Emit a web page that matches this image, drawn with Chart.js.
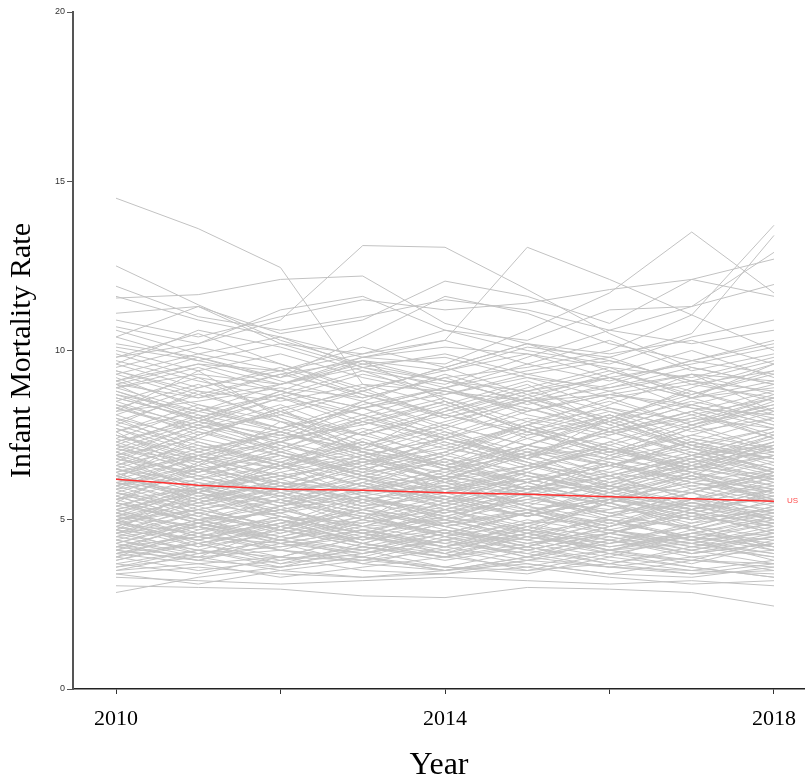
<!DOCTYPE html>
<html>
<head>
<meta charset="utf-8">
<script src="https://cdn.jsdelivr.net/npm/chart.js@4.4.1/dist/chart.umd.min.js"></script>
<style>
  html, body { margin: 0; padding: 0; background: #fff; }
  #wrap { width: 805px; height: 779px; }
</style>
</head>
<body>
<div id="wrap"><canvas id="chart" width="805" height="779"></canvas></div>
<script>
const years = [2010, 2011, 2012, 2013, 2014, 2015, 2016, 2017, 2018];
const yTicks = [0, 5, 10, 15, 20];
const xTickYears = [2010, 2012, 2014, 2016, 2018];
const xLabelYears = [2010, 2014, 2018];

const usRate = [6.2, 6.02, 5.9, 5.87, 5.8, 5.75, 5.68, 5.62, 5.55];

// one row per area
const countyRates = [
  [14.5, 13.6, 12.45, 9.0, 8.8, 8.5, 8.7, 8.3, 8.1],
  [12.5, 11.35, 10.3, 9.6, 9.8, 9.2, 8.9, 9.3, 8.7],
  [11.55, 11.65, 12.1, 12.2, 10.8, 10.2, 9.9, 10.3, 9.6],
  [9.8, 10.2, 10.9, 13.1, 13.05, 11.8, 10.5, 9.5, 9.0],
  [9.1, 9.6, 9.4, 9.9, 10.3, 13.05, 12.1, 11.05, 10.0],
  [8.9, 9.3, 9.0, 9.8, 9.6, 10.6, 11.7, 13.5, 11.7],
  [8.2, 8.5, 8.9, 8.6, 9.2, 9.5, 10.0, 11.05, 13.7],
  [9.0, 8.6, 9.3, 9.7, 9.4, 10.1, 9.8, 10.5, 13.4],
  [10.1, 9.7, 10.2, 9.9, 10.6, 10.3, 11.2, 11.3, 12.9],
  [10.9, 10.4, 11.0, 11.5, 11.2, 11.4, 11.8, 12.1, 12.7],
  [11.9, 11.0, 10.6, 11.0, 11.5, 11.2, 10.6, 11.3, 11.95],
  [11.1, 11.3, 10.5, 10.9, 12.05, 11.6, 10.8, 12.1, 11.6],
  [10.4, 11.3, 10.2, 9.5, 9.1, 8.8, 9.2, 8.6, 8.9],
  [11.6, 10.9, 10.4, 9.8, 10.1, 9.9, 9.5, 9.2, 9.8],
  [10.7, 10.2, 11.2, 11.6, 10.6, 10.0, 9.6, 10.4, 10.9],
  [10.2, 9.8, 9.2, 10.4, 11.6, 11.1, 10.2, 9.7, 10.3],
  [9.6, 10.6, 10.1, 9.4, 9.0, 9.8, 10.6, 10.2, 10.6],
  [3.05, 3.0, 2.95, 2.75, 2.7, 3.0, 2.95, 2.85, 2.45],
  [2.85, 3.3, 3.6, 3.9, 3.5, 3.8, 3.6, 3.4, 3.7],
  [3.3, 3.2, 3.1, 3.2, 3.3, 3.2, 3.1, 3.2, 3.05],
  [3.4, 3.1, 3.5, 3.3, 3.4, 3.6, 3.3, 3.1, 3.2],
  [7.4, 6.6, 7.9, 7.0, 6.3, 7.5, 8.1, 7.2, 6.8],
  [8.3, 7.6, 7.1, 8.0, 8.6, 7.7, 7.2, 7.9, 8.4],
  [6.9, 7.8, 7.3, 6.5, 7.0, 7.9, 7.4, 6.7, 7.3],
  [7.8, 7.1, 7.5, 8.3, 7.4, 6.9, 7.6, 8.2, 7.5],
  [8.6, 8.0, 7.4, 7.8, 8.4, 7.7, 7.0, 7.5, 7.1],
  [7.1, 6.7, 7.3, 7.9, 7.2, 7.8, 8.3, 7.6, 8.0],
  [9.1, 8.4, 7.9, 7.5, 8.1, 7.6, 8.2, 7.4, 7.0],
  [7.6, 8.2, 8.7, 7.9, 7.4, 8.0, 7.5, 8.1, 8.6],
  [8.0, 7.4, 8.3, 8.8, 8.1, 7.5, 7.9, 8.5, 8.0],
  [8.8, 8.1, 7.6, 8.4, 8.9, 8.2, 8.7, 9.1, 8.5],
  [7.3, 7.9, 7.5, 7.1, 6.6, 7.2, 6.8, 6.4, 6.9],
  [9.4, 8.8, 8.5, 9.0, 8.4, 9.1, 8.3, 7.9, 8.6],
  [8.4, 7.8, 8.6, 8.1, 8.8, 8.3, 7.6, 8.0, 7.7],
  [9.7, 9.1, 8.6, 9.3, 8.8, 8.2, 8.7, 8.4, 7.8],
  [8.9, 9.5, 8.8, 8.3, 8.7, 9.2, 8.6, 9.0, 9.4],
  [9.3, 8.6, 9.0, 9.6, 9.1, 8.5, 8.9, 9.5, 9.0],
  [10.0, 9.4, 9.9, 9.2, 8.7, 9.3, 9.7, 9.1, 8.8],
  [9.5, 10.1, 9.6, 8.9, 9.4, 9.9, 9.2, 9.6, 10.1],
  [8.7, 8.2, 9.0, 9.5, 9.9, 9.3, 8.8, 9.3, 9.1],
  [9.9, 9.2, 8.8, 8.3, 8.9, 9.4, 9.8, 9.0, 8.6],
  [6.4, 7.1, 6.6, 6.0, 6.8, 6.3, 5.9, 6.7, 7.0],
  [7.0, 6.3, 6.8, 7.3, 6.5, 6.1, 6.6, 7.2, 6.7],
  [6.1, 6.6, 7.2, 6.7, 6.2, 6.9, 7.1, 6.4, 6.0],
  [6.7, 6.0, 6.4, 6.9, 7.4, 6.8, 6.2, 6.6, 6.3],
  [6.2, 6.8, 6.1, 5.8, 6.4, 7.0, 6.6, 6.1, 6.5],
  [6.9, 7.4, 6.9, 6.3, 6.0, 6.5, 7.1, 6.8, 6.2],
  [6.5, 6.1, 5.7, 6.3, 6.9, 6.4, 6.0, 5.8, 6.4],
  [6.0, 6.5, 6.9, 6.4, 6.7, 6.1, 6.6, 7.1, 6.8],
  [7.2, 6.8, 6.3, 6.7, 6.2, 6.6, 7.0, 6.5, 6.9],
  [6.8, 6.2, 6.6, 7.1, 6.6, 7.2, 6.7, 6.2, 5.9],
  [6.3, 6.9, 7.3, 6.8, 6.4, 5.9, 6.3, 6.9, 7.2],
  [7.1, 6.5, 6.1, 5.9, 6.5, 6.9, 6.4, 6.0, 6.3],
  [6.6, 7.2, 6.7, 6.2, 5.8, 6.2, 6.8, 7.3, 6.8],
  [6.1, 5.8, 6.3, 6.7, 7.1, 6.7, 6.1, 6.5, 6.2],
  [7.5, 6.9, 6.5, 7.0, 6.6, 6.1, 6.6, 6.2, 6.7],
  [6.8, 6.4, 7.0, 6.5, 6.1, 6.6, 6.3, 6.8, 7.4],
  [5.4, 6.0, 5.5, 5.1, 5.7, 5.3, 4.9, 5.6, 6.0],
  [6.0, 5.3, 5.8, 6.2, 5.5, 5.1, 5.6, 6.1, 5.7],
  [5.1, 5.6, 6.1, 5.6, 5.2, 5.9, 6.0, 5.4, 5.0],
  [5.7, 5.0, 5.4, 5.9, 6.3, 5.8, 5.2, 5.6, 5.3],
  [5.2, 5.8, 5.1, 4.8, 5.4, 6.0, 5.6, 5.1, 5.5],
  [5.9, 6.3, 5.8, 5.3, 5.0, 5.5, 6.1, 5.8, 5.2],
  [5.5, 5.1, 4.7, 5.3, 5.9, 5.4, 5.0, 4.8, 5.4],
  [5.0, 5.5, 5.9, 5.4, 5.7, 5.1, 5.6, 6.1, 5.8],
  [6.2, 5.8, 5.3, 5.7, 5.2, 5.6, 6.0, 5.5, 5.9],
  [5.8, 5.2, 5.6, 6.1, 5.6, 6.2, 5.7, 5.2, 4.9],
  [5.3, 5.9, 6.3, 5.8, 5.4, 4.9, 5.3, 5.9, 6.2],
  [6.1, 5.5, 5.1, 4.9, 5.5, 5.9, 5.4, 5.0, 5.3],
  [5.6, 6.2, 5.7, 5.2, 4.8, 5.2, 5.8, 6.3, 5.8],
  [5.1, 4.8, 5.3, 5.7, 6.1, 5.7, 5.1, 5.5, 5.2],
  [6.5, 5.9, 5.5, 6.0, 5.6, 5.1, 5.6, 5.2, 5.7],
  [5.8, 5.4, 6.0, 5.5, 5.1, 5.6, 5.3, 5.8, 6.4],
  [5.4, 5.0, 5.2, 5.6, 5.3, 5.8, 5.5, 5.0, 5.3],
  [5.6, 5.9, 5.4, 5.8, 6.0, 5.5, 5.2, 5.5, 5.1],
  [5.0, 5.3, 5.7, 5.2, 4.9, 5.3, 5.6, 5.3, 5.7],
  [6.3, 5.7, 6.0, 5.6, 5.9, 6.2, 5.7, 5.4, 5.6],
  [4.4, 5.0, 4.5, 4.1, 4.7, 4.3, 3.9, 4.6, 5.0],
  [5.0, 4.3, 4.8, 5.2, 4.5, 4.1, 4.6, 5.1, 4.7],
  [4.1, 4.6, 5.1, 4.6, 4.2, 4.9, 5.0, 4.4, 4.0],
  [4.7, 4.0, 4.4, 4.9, 5.3, 4.8, 4.2, 4.6, 4.3],
  [4.2, 4.8, 4.1, 3.8, 4.4, 5.0, 4.6, 4.1, 4.5],
  [4.9, 5.3, 4.8, 4.3, 4.0, 4.5, 5.1, 4.8, 4.2],
  [4.5, 4.1, 3.7, 4.3, 4.9, 4.4, 4.0, 3.8, 4.4],
  [4.0, 4.5, 4.9, 4.4, 4.7, 4.1, 4.6, 5.1, 4.8],
  [5.2, 4.8, 4.3, 4.7, 4.2, 4.6, 5.0, 4.5, 4.9],
  [4.8, 4.2, 4.6, 5.1, 4.6, 5.2, 4.7, 4.2, 3.9],
  [4.3, 4.9, 5.3, 4.8, 4.4, 3.9, 4.3, 4.9, 5.2],
  [5.1, 4.5, 4.1, 3.9, 4.5, 4.9, 4.4, 4.0, 4.3],
  [4.6, 5.2, 4.7, 4.2, 3.8, 4.2, 4.8, 5.3, 4.8],
  [4.1, 3.8, 4.3, 4.7, 5.1, 4.7, 4.1, 4.5, 4.2],
  [5.5, 4.9, 4.5, 5.0, 4.6, 4.1, 4.6, 4.2, 4.7],
  [4.8, 4.4, 5.0, 4.5, 4.1, 4.6, 4.3, 4.8, 5.4],
  [4.4, 4.0, 4.2, 4.6, 4.3, 4.8, 4.5, 4.0, 4.3],
  [4.6, 4.9, 4.4, 4.8, 5.0, 4.5, 4.2, 4.5, 4.1],
  [4.0, 4.3, 4.7, 4.2, 3.9, 4.3, 4.6, 4.3, 4.7],
  [5.3, 4.7, 5.0, 4.6, 4.9, 5.2, 4.7, 4.4, 4.6],
  [4.2, 4.5, 4.3, 4.0, 4.4, 4.7, 4.3, 4.6, 4.4],
  [4.7, 4.4, 4.9, 5.3, 4.8, 4.3, 4.7, 4.3, 4.0],
  [4.5, 4.8, 4.4, 4.1, 4.6, 4.4, 4.9, 4.5, 4.2],
  [4.9, 4.6, 4.2, 4.5, 4.2, 4.7, 4.4, 4.8, 4.5],
  [3.6, 3.9, 3.5, 3.8, 4.1, 3.7, 3.4, 3.8, 3.6],
  [3.9, 3.5, 3.8, 4.1, 3.6, 3.4, 3.9, 3.6, 3.3],
  [4.0, 3.7, 3.3, 3.6, 3.9, 4.2, 3.8, 3.5, 3.8],
  [3.7, 4.1, 3.9, 3.5, 3.4, 3.8, 4.1, 4.3, 3.9],
  [3.5, 3.7, 3.9, 3.8, 3.6, 3.5, 3.7, 3.4, 3.5],
  [4.2, 3.9, 4.1, 3.7, 3.5, 3.9, 3.6, 3.5, 3.4],
  [3.8, 4.3, 3.7, 4.0, 4.4, 4.0, 3.6, 3.9, 4.1],
  [4.1, 3.8, 3.6, 4.2, 3.9, 3.6, 4.1, 3.8, 3.7],
  [3.4, 3.6, 3.4, 3.3, 3.5, 3.7, 3.4, 3.3, 3.6],
  [7.2, 8.1, 7.0, 6.4, 7.5, 6.8, 7.7, 6.9, 6.3],
  [5.9, 6.9, 7.6, 6.8, 5.9, 6.4, 7.3, 6.6, 7.5],
  [8.1, 7.3, 6.7, 7.6, 8.3, 7.4, 6.8, 7.7, 8.5],
  [6.3, 5.6, 6.5, 7.4, 6.6, 5.9, 6.9, 7.7, 7.0],
  [4.9, 5.8, 6.6, 5.7, 5.0, 5.8, 6.7, 5.9, 5.4],
  [7.7, 6.8, 6.0, 6.8, 7.6, 6.7, 5.9, 6.5, 7.3],
  [5.6, 6.5, 5.6, 4.8, 5.5, 6.4, 5.7, 5.0, 5.9],
  [8.5, 7.7, 8.4, 7.5, 6.9, 7.8, 8.6, 7.8, 7.1],
  [6.6, 7.5, 8.2, 7.3, 6.7, 7.6, 6.9, 6.3, 7.2],
  [4.6, 5.4, 4.7, 5.5, 6.2, 5.4, 4.8, 5.6, 6.1],
  [7.9, 8.7, 8.0, 7.2, 7.8, 8.6, 7.9, 7.2, 7.7],
  [5.3, 4.6, 5.4, 6.1, 5.3, 4.7, 5.5, 6.3, 5.5],
  [6.0, 6.9, 6.2, 5.5, 6.3, 7.1, 6.3, 5.6, 6.4],
  [9.2, 8.3, 7.7, 8.5, 7.8, 7.2, 8.0, 8.8, 8.1],
  [3.9, 4.7, 5.4, 4.6, 4.0, 4.8, 5.5, 4.7, 4.1],
  [7.0, 7.8, 7.1, 7.9, 8.5, 7.6, 6.9, 7.5, 8.2],
  [5.8, 5.1, 5.9, 6.6, 5.8, 5.2, 6.0, 6.8, 6.1],
  [8.3, 9.0, 8.2, 7.5, 8.2, 8.9, 9.5, 8.6, 7.9],
  [4.8, 5.6, 5.0, 4.3, 4.9, 5.7, 5.0, 4.4, 5.1],
  [6.5, 5.8, 6.7, 7.3, 6.5, 7.2, 7.9, 7.1, 6.5],
  [7.5, 6.7, 7.4, 8.1, 7.3, 6.6, 7.3, 8.0, 8.7],
  [5.2, 6.0, 6.7, 6.0, 5.4, 6.1, 5.5, 6.2, 6.9],
  [8.7, 7.9, 7.3, 8.0, 7.4, 8.2, 8.8, 8.1, 7.4],
  [4.3, 3.8, 4.5, 5.1, 4.5, 3.9, 4.6, 5.2, 4.6],
  [6.8, 7.6, 6.9, 6.2, 6.9, 7.7, 7.0, 7.8, 8.4],
  [9.6, 8.9, 9.4, 8.6, 9.2, 8.4, 9.0, 9.7, 9.3],
  [5.5, 4.9, 5.6, 5.0, 4.5, 5.2, 4.6, 5.3, 5.9],
  [7.3, 6.5, 5.9, 6.6, 7.2, 6.5, 7.1, 6.4, 5.8],
  [10.4, 9.7, 9.2, 9.8, 10.3, 9.6, 9.1, 9.7, 10.2],
  [3.5, 4.0, 4.4, 3.9, 3.6, 4.1, 3.7, 4.2, 4.5],
  [8.2, 9.4, 8.0, 7.1, 8.3, 9.0, 7.8, 8.6, 9.6],
  [7.6, 6.4, 7.3, 8.5, 7.7, 6.8, 8.0, 7.1, 6.5],
  [6.2, 7.5, 8.3, 7.0, 6.1, 7.2, 8.1, 7.3, 6.6],
  [9.0, 7.9, 8.8, 9.7, 8.5, 7.6, 8.4, 9.3, 8.2],
  [5.5, 6.7, 5.8, 5.0, 6.2, 7.0, 6.0, 5.3, 6.3],
  [4.7, 5.9, 5.2, 4.4, 5.3, 4.6, 5.6, 6.4, 5.5],
  [6.9, 5.8, 6.6, 7.6, 6.8, 5.9, 6.5, 7.4, 6.9],
  [8.5, 9.2, 8.1, 8.8, 9.5, 8.7, 7.9, 8.9, 9.6],
  [3.8, 4.4, 5.0, 4.3, 3.9, 4.6, 4.1, 3.7, 4.3],
  [5.0, 4.2, 4.9, 5.7, 5.0, 4.4, 5.1, 5.8, 5.0],
  [7.8, 8.8, 7.9, 7.0, 7.7, 8.5, 7.6, 6.9, 7.6],
  [6.4, 5.5, 6.2, 6.9, 6.1, 5.4, 6.2, 6.9, 7.6],
  [9.8, 10.5, 9.6, 8.8, 9.5, 10.2, 9.4, 8.7, 9.4],
  [4.4, 3.9, 4.8, 5.6, 4.8, 4.2, 5.0, 4.4, 3.8],
  [5.7, 6.4, 7.1, 6.3, 5.6, 6.3, 5.8, 6.6, 7.2],
  [7.1, 7.9, 8.6, 7.8, 8.5, 7.6, 7.0, 7.8, 8.6],
  [8.0, 7.0, 6.5, 7.3, 6.6, 7.4, 8.1, 7.2, 6.4],
  [5.9, 5.2, 4.7, 5.4, 6.0, 5.3, 4.8, 5.5, 5.0],
  [4.1, 4.9, 4.3, 3.7, 4.2, 4.9, 5.5, 4.8, 4.2],
  [9.3, 9.9, 10.4, 9.5, 8.9, 9.6, 10.3, 9.4, 9.9],
  [6.6, 6.0, 5.4, 6.1, 6.8, 6.1, 5.5, 6.0, 5.5],
  [5.3, 5.8, 5.2, 5.9, 6.5, 5.7, 5.1, 5.8, 6.5],
  [7.4, 8.3, 7.6, 6.9, 6.2, 6.9, 7.7, 8.4, 7.8],
  [4.9, 4.4, 3.9, 4.5, 5.1, 4.6, 4.0, 4.4, 4.9],
  [8.8, 8.0, 8.7, 9.4, 8.6, 7.9, 8.5, 7.8, 8.3],
  [6.0, 6.6, 6.0, 6.7, 7.3, 6.6, 6.0, 6.7, 6.1],
  [3.7, 3.4, 3.9, 4.5, 4.0, 3.5, 4.0, 3.6, 3.3],
  [7.0, 6.2, 6.9, 6.3, 5.8, 6.5, 7.2, 6.5, 7.1],
  [9.1, 9.8, 9.1, 8.5, 9.3, 8.6, 9.3, 10.0, 9.2],
  [5.1, 5.9, 6.4, 5.7, 5.1, 5.7, 5.2, 4.7, 5.3],
  [6.7, 7.7, 7.0, 6.3, 7.0, 7.8, 7.1, 6.5, 7.3],
  [4.5, 5.2, 4.6, 5.3, 4.7, 4.2, 4.8, 5.4, 4.9],
  [8.4, 7.5, 8.2, 8.9, 8.0, 8.7, 9.2, 8.3, 7.7],
  [5.7, 5.0, 5.6, 5.1, 4.6, 5.2, 5.9, 5.3, 4.8],
  [7.9, 7.2, 6.6, 7.2, 7.9, 8.5, 7.8, 7.1, 7.7],
  [4.0, 4.6, 4.1, 4.7, 4.2, 3.8, 4.4, 4.0, 4.5],
  [6.3, 7.0, 7.6, 6.9, 7.4, 6.7, 6.1, 6.8, 7.5],
  [10.6, 9.9, 9.4, 10.1, 9.5, 10.2, 9.7, 9.1, 9.7],
  [5.2, 4.5, 5.1, 4.6, 5.3, 6.0, 5.4, 4.9, 5.6],
  [7.3, 8.0, 7.2, 6.6, 7.4, 6.8, 7.5, 8.2, 7.4],
  [4.8, 5.5, 6.1, 5.4, 4.8, 5.3, 4.7, 5.2, 5.8],
  [8.6, 8.0, 8.8, 8.1, 7.5, 8.3, 7.7, 8.4, 9.0],
  [6.1, 5.4, 5.9, 6.5, 7.0, 6.3, 5.8, 6.4, 5.9],
  [3.9, 4.3, 3.8, 4.2, 4.7, 4.2, 3.7, 4.1, 3.7],
  [9.4, 8.7, 9.3, 8.7, 8.1, 8.8, 9.4, 8.8, 8.2],
  [5.6, 4.9, 4.4, 5.0, 5.6, 5.1, 5.7, 5.2, 4.6],
  [7.7, 7.0, 7.7, 8.3, 7.6, 7.0, 7.6, 7.0, 6.4],
  [4.3, 5.0, 4.4, 4.0, 4.6, 5.2, 4.7, 4.3, 4.8],
  [6.5, 7.3, 6.6, 6.0, 5.5, 6.1, 6.7, 6.1, 5.6],
  [8.1, 8.9, 9.5, 8.7, 8.0, 8.6, 8.0, 8.7, 9.3],
  [5.4, 6.1, 5.5, 6.2, 5.7, 5.1, 5.7, 6.3, 5.6],
  [7.2, 6.4, 7.0, 7.7, 7.1, 7.8, 7.1, 6.5, 7.1],
  [4.6, 4.1, 4.7, 4.3, 3.9, 4.5, 4.1, 4.7, 5.2],
  [6.9, 6.3, 5.7, 6.4, 5.9, 6.5, 7.1, 6.6, 6.0],
  [8.9, 8.2, 7.7, 8.3, 8.9, 8.1, 7.6, 8.2, 8.8],
  [5.0, 5.7, 5.1, 4.6, 5.2, 5.8, 6.3, 5.6, 5.0],
  [7.6, 8.4, 7.7, 7.1, 7.8, 7.2, 6.6, 7.3, 8.0],
  [4.2, 4.8, 5.3, 4.7, 4.3, 4.0, 4.5, 4.1, 4.6],
  [6.2, 5.6, 6.2, 6.8, 6.2, 5.7, 6.3, 6.9, 6.4],
  [9.0, 9.6, 9.0, 9.7, 9.1, 8.5, 9.2, 8.6, 9.1],
  [5.8, 6.5, 5.9, 5.3, 5.8, 6.4, 5.8, 5.3, 5.9],
  [3.6, 4.1, 3.6, 3.9, 3.5, 3.9, 4.4, 3.9, 3.5],
  [7.5, 6.8, 7.6, 7.0, 6.5, 7.1, 6.6, 7.3, 6.8],
  [4.7, 5.3, 4.8, 4.4, 5.0, 4.5, 4.1, 4.6, 5.1],
  [8.3, 7.7, 8.1, 7.5, 8.2, 8.8, 8.2, 7.7, 8.3],
  [6.4, 6.9, 6.3, 5.8, 6.3, 5.9, 6.4, 7.0, 6.5]
];

const toPoints = (vals) => vals.map((v, i) => ({ x: years[i], y: v }));

const datasets = [
  {
    label: "US",
    data: toPoints(usRate),
    borderColor: "#ff3030",
    borderWidth: 1.5,
    pointRadius: 0,
    tension: 0,
  },
];
countyRates.forEach((row, i) => {
  datasets.push({
    label: "area " + (i + 1),
    data: toPoints(row),
    borderColor: "#c2c2c2",
    borderWidth: 1,
    pointRadius: 0,
    tension: 0,
  });
});

const usLabel = {
  id: "usLabel",
  afterDatasetsDraw: (chart) => {
    const { ctx, scales } = chart;
    const last = years.length - 1;
    const x = scales.x.getPixelForValue(years[last]) + 13;
    const y = scales.y.getPixelForValue(usRate[last]);
    ctx.save();
    ctx.font = "8px 'Liberation Sans', sans-serif";
    ctx.fillStyle = "#ff4d4d";
    ctx.textAlign = "left";
    ctx.textBaseline = "middle";
    ctx.fillText("US", x, y);
    ctx.restore();
  },
};

new Chart(document.getElementById("chart"), {
  type: "line",
  data: { datasets: datasets },
  options: {
    responsive: false,
    animation: false,
    events: [],
    layout: { padding: { top: 12, right: 0, bottom: 0, left: 0 } },
    plugins: {
      legend: { display: false },
      tooltip: { enabled: false },
    },
    scales: {
      x: {
        type: "linear",
        min: 2009.477,
        max: 2018.377,
        afterBuildTicks: (s) => {
          s.ticks = xTickYears.map((v) => ({ value: v }));
        },
        afterFit: (s) => {
          s.height = 90;
          s.paddingLeft = 0;
          s.paddingRight = 0;
        },
        ticks: {
          autoSkip: false,
          maxRotation: 0,
          padding: 12,
          color: "#000",
          font: { family: "'Liberation Serif', serif", size: 22 },
          callback: (v) => (xLabelYears.includes(v) ? String(v) : ""),
        },
        grid: { drawOnChartArea: false, tickLength: 5, color: "#333" },
        border: { color: "#222", width: 1.5 },
        title: {
          display: true,
          text: "Year",
          color: "#000",
          font: { family: "'Liberation Serif', serif", size: 32, lineHeight: 0.8 },
          padding: { top: 0, bottom: 1 },
        },
      },
      y: {
        min: 0,
        max: 20,
        afterBuildTicks: (s) => {
          s.ticks = yTicks.map((v) => ({ value: v }));
        },
        afterFit: (s) => {
          s.width = 73;
        },
        ticks: {
          padding: 2,
          color: "#333",
          font: { family: "'Liberation Sans', sans-serif", size: 9 },
        },
        grid: { drawOnChartArea: false, tickLength: 6, color: "#555" },
        border: { color: "#555", width: 2 },
        title: {
          display: true,
          text: "Infant Mortality Rate",
          color: "#000",
          font: { family: "'Liberation Serif', serif", size: 30, lineHeight: 1 },
          padding: { top: 7, bottom: 0 },
        },
      },
    },
  },
  plugins: [usLabel],
});
</script>
</body>
</html>
